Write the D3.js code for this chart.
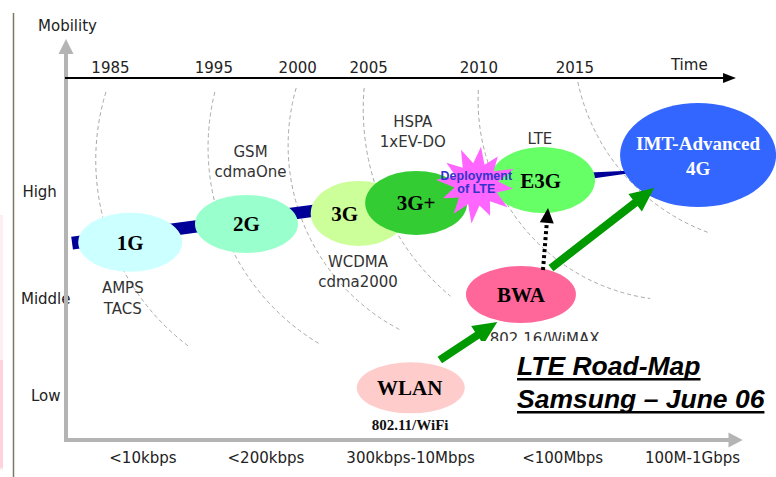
<!DOCTYPE html>
<html><head><meta charset="utf-8">
<script src="https://cdn.jsdelivr.net/npm/d3@7"></script>
<style>body{margin:0;background:#fff}svg{display:block}</style>
</head><body><svg id="c" width="776" height="477"></svg>
<script>
// ---------------- data ----------------
const years = [1985, 1995, 2000, 2005, 2010, 2015];
const yearPos = [6.5, 21.8, 34.2, 44.7, 61.0, 75.2];            // along horizontal axis (%)
const speedLabels = ["<10kbps", "<200kbps", "300kbps-10Mbps", "<100Mbps", "100M-1Gbps"];
const speedPos = [11.3, 29.5, 50.9, 73.4, 92.6];
const mobilityLevels = ["Low", "Middle", "High"];
const mobilityPos = [11.0, 37.8, 67.4];                          // along vertical axis (%)
const mobilityLabelPos = [-3.0, -3.0, -3.9];

const techs = ["1G", "2G", "3G", "3G+", "E3G", "IMT-Advanced|4G", "BWA", "WLAN"];
const techSpeed = [9.5, 26.7, 43.3, 51.8, 70.5, 93.5, 67.3, 51.0];
const techMobility = [54.6, 59.7, 62.6, 65.5, 71.8, 78.7, 40.2, 14.4];

const noteTexts = [["AMPS", "TACS"], ["GSM", "cdmaOne"], ["WCDMA", "cdma2000"], ["HSPA", "1xEV-DO"], ["LTE"], ["802.16/WiMAX"], ["802.11/WiFi"]];
const noteSpeed = [8.4, 27.3, 43.2, 51.3, 70.1, 70.8, 50.9];
const noteMobility = [40.6, 78.2, 47.8, 86.5, 81.8, 26.5, 2.8];

const milestoneText = ["Deployment", "of LTE"];
const milestoneSpeed = 60.7, milestoneMobility = 70.6;

const bandSpeed = [0.9, 70.5, 83.1];
const bandMobility = [54.4, 71.8, 74.0];

const migrationFrom = [[55.3, 22.1], [71.75, 47.5]];
const migrationTo = [[63.8, 32.6], [87.0, 69.6]];
const dottedFrom = [70.56, 46.96], dottedTo = [71.3, 64.1];

const titleLines = ["LTE Road-Map", "Samsung – June 06"];

// ---------------- styles ----------------
const shapeStyle = {
  "1G": {rx: 52, ry: 29.5, fill: "#ccffff", text: "#000", dx: 0},
  "2G": {rx: 51.5, ry: 29, fill: "#99ffcc", text: "#000", dx: 0},
  "3G": {rx: 48, ry: 32.5, fill: "#ccff99", text: "#000", dx: -14},
  "3G+": {rx: 51, ry: 32, fill: "#33cc33", text: "#000", dx: 0},
  "E3G": {rx: 52.5, ry: 33, fill: "#66ff66", text: "#000", dx: -2},
  "IMT-Advanced|4G": {rx: 78, ry: 52, fill: "#3366ff", text: "#fff", dx: 0},
  "BWA": {rx: 55, ry: 28.5, fill: "#ff6699", text: "#000", dx: 0},
  "WLAN": {rx: 54, ry: 25.5, fill: "#ffcccc", text: "#000", dx: -1}
};
const arcLayout = [
  {dx: -4, ty: 92, r: 233, a0: 197, a1: 127},
  {dx: 1.5, ty: 92, r: 229, a0: 194, a1: 121},
  {dx: -1, ty: 88, r: 208, a0: 196, a1: 117},
  {dx: -4, ty: 88, r: 244, a0: 185, a1: 130},
  {dx: 0, ty: 90, r: 200, a0: 183, a1: 98},
  {dx: 3.5, ty: 82, r: 206, a0: 168, a1: 110}
];
const SANS = "'DejaVu Sans', sans-serif";
const SERIF = "'Liberation Serif', 'Times New Roman', serif";

// ---------------- scales ----------------
const x = d3.scaleLinear().domain([0, 100]).range([66, 742]);
const y = d3.scaleLinear().domain([0, 100]).range([440, 78]);

const svg = d3.select("#c");
svg.append("rect").attr("width", 776).attr("height", 477).attr("fill", "#fff");

// page decorations
svg.append("rect").attr("x", 0).attr("y", 215).attr("width", 3).attr("height", 255).attr("fill", "#fdeef2");
svg.append("rect").attr("x", 0).attr("y", 360).attr("width", 3).attr("height", 108).attr("fill", "#ffd2de");
svg.append("line").attr("x1", 13.5).attr("x2", 13.5).attr("y1", 13).attr("y2", 477)
  .attr("stroke", "#7d7864").attr("stroke-width", 1.5);

// ---------------- dashed time arcs ----------------
const rad = Math.PI / 180;
arcLayout.forEach((a, i) => {
  const tx = x(yearPos[i]) + a.dx, ty = a.ty;
  const cx = tx - a.r * Math.cos(a.a0 * rad), cy = ty - a.r * Math.sin(a.a0 * rad);
  const p = d3.path();
  p.moveTo(tx, ty);
  p.arc(cx, cy, a.r, a.a0 * rad, a.a1 * rad, true);
  svg.append("path").attr("d", p.toString()).attr("fill", "none")
    .attr("stroke", "#a8a8a8").attr("stroke-width", 1).attr("stroke-dasharray", "4,3");
});

// ---------------- axes ----------------
const speedAxis = d3.axisBottom(x).tickValues(speedPos).tickFormat((d, i) => speedLabels[i]).tickSize(0).tickPadding(12);
const gS = svg.append("g").attr("transform", `translate(0,${y(0)})`).call(speedAxis);
gS.select(".domain").remove();
gS.selectAll("text").attr("font-family", SANS).attr("font-size", 15).attr("fill", "#222");
svg.append("line").attr("x1", x(0) - 2).attr("x2", x(98.2)).attr("y1", y(0)).attr("y2", y(0))
  .attr("stroke", "#b4b4b4").attr("stroke-width", 4);
svg.append("path").attr("d", d3.line()([[x(98), y(0) - 7.5], [x(100.1), y(0)], [x(98), y(0) + 7.5]]) + "Z").attr("fill", "#b4b4b4");

const mobAxis = d3.axisLeft(y).tickValues(mobilityPos).tickFormat((d, i) => mobilityLevels[i]).tickSize(0);
const gM = svg.append("g").attr("transform", `translate(${x(0)},0)`).call(mobAxis);
gM.select(".domain").remove();
gM.selectAll("text").attr("font-family", SANS).attr("font-size", 15).attr("fill", "#222")
  .attr("text-anchor", "middle").attr("dy", "0").attr("x", (d, i) => x(mobilityLabelPos[i]) - x(0));
svg.append("line").attr("x1", x(0)).attr("x2", x(0)).attr("y1", y(0) + 2).attr("y2", 52)
  .attr("stroke", "#b4b4b4").attr("stroke-width", 4);
svg.append("path").attr("d", d3.line()([[x(0) - 7.5, 54], [x(0), 39], [x(0) + 7.5, 54]]) + "Z").attr("fill", "#b4b4b4");
svg.append("text").attr("x", x(0) + 1.5).attr("y", 31).attr("text-anchor", "middle")
  .attr("font-family", SANS).attr("font-size", 15).attr("fill", "#222").text("Mobility");

const timeAxis = d3.axisTop(x).tickValues(yearPos).tickFormat((d, i) => years[i]).tickSize(0).tickPadding(5);
const gT = svg.append("g").attr("transform", `translate(0,${y(100)})`).call(timeAxis);
gT.select(".domain").remove();
gT.selectAll("text").attr("font-family", SANS).attr("font-size", 15).attr("fill", "#222");
svg.append("line").attr("x1", x(0) - 1).attr("x2", x(97.5)).attr("y1", y(100)).attr("y2", y(100))
  .attr("stroke", "#000").attr("stroke-width", 2);
svg.append("path").attr("d", d3.line()([[x(97.2), y(100) - 5], [x(99.1), y(100)], [x(97.2), y(100) + 5]]) + "Z").attr("fill", "#000");
svg.append("text").attr("x", x(92.2)).attr("y", 70).attr("text-anchor", "middle")
  .attr("font-family", SANS).attr("font-size", 15).attr("fill", "#222").text("Time");

// ---------------- evolution band ----------------
(function () {
  const pts = bandSpeed.map((s, i) => [x(s), y(bandMobility[i])]);
  const hw = [6.5, 5.5, 1.5];
  const up = [], dn = [];
  pts.forEach((p, i) => {
    const a = pts[Math.max(0, i - 1)], b = pts[Math.min(pts.length - 1, i + 1)];
    const dx = b[0] - a[0], dy = b[1] - a[1], L = Math.hypot(dx, dy);
    const nx = -dy / L, ny = dx / L;
    up.push([p[0] + nx * hw[i], p[1] + ny * hw[i]]);
    dn.push([p[0] - nx * hw[i], p[1] - ny * hw[i]]);
  });
  svg.append("path").attr("d", d3.line()(up.concat(dn.reverse())) + "Z").attr("fill", "#000099");
})();

// ---------------- technology ellipses ----------------
function drawTech(name) {
  const i = techs.indexOf(name), st = shapeStyle[name];
  const cx = x(techSpeed[i]), cy = y(techMobility[i]);
  svg.append("ellipse").attr("cx", cx).attr("cy", cy).attr("rx", st.rx).attr("ry", st.ry).attr("fill", st.fill);
  const lines = name.split("|");
  const t = svg.append("text").attr("text-anchor", "middle").attr("font-family", SERIF)
    .attr("font-weight", "bold").attr("font-size", lines.length > 1 ? 19 : 21).attr("fill", st.text);
  lines.forEach((l, k) => {
    t.append("tspan").attr("x", cx + st.dx).attr("y", lines.length > 1 ? cy - 5 + k * 25 : cy + 7.5).text(l);
  });
}
["1G", "2G", "3G", "3G+", "E3G"].forEach(drawTech);

// milestone star
(function () {
  const cx = x(milestoneSpeed), cy = y(milestoneMobility);
  const n = 12, pts = [];
  const jitter = [1, 0.92, 1.05, 0.95, 1, 0.9, 1.04, 0.97, 0.93, 1.05, 0.96, 1];
  for (let k = 0; k < n * 2; k++) {
    const r = k % 2 === 0 ? 39 * jitter[k / 2] : 22;
    const a = -Math.PI / 2 + 0.12 + k * Math.PI / n;
    pts.push([cx + r * Math.cos(a), cy + r * 0.97 * Math.sin(a)]);
  }
  svg.append("path").attr("d", d3.line()(pts) + "Z").attr("fill", "#ff66ff");
  const t = svg.append("text").attr("text-anchor", "middle").attr("font-family", "'Liberation Sans', Arial, sans-serif")
    .attr("font-weight", "bold").attr("font-size", 12.5).attr("fill", "#3333cc");
  milestoneText.forEach((l, k) => t.append("tspan").attr("x", cx).attr("y", cy - 4.5 + k * 13.5).text(l));
})();

["IMT-Advanced|4G", "BWA", "WLAN"].forEach(drawTech);

// ---------------- notes ----------------
noteTexts.forEach((lines, i) => {
  const isWifi = lines[0] === "802.11/WiFi";
  const t = svg.append("text").attr("text-anchor", "middle")
    .attr("font-family", isWifi ? SERIF : SANS).attr("font-weight", isWifi ? "bold" : "normal")
    .attr("font-size", 15).attr("fill", isWifi ? "#111" : "#333");
  lines.forEach((l, k) => t.append("tspan").attr("x", x(noteSpeed[i])).attr("y", y(noteMobility[i]) + k * 20.5).text(l));
});

// ---------------- arrows ----------------
function arrowPoly(p0, p1, sw, hl, hw) {
  const [x0, y0] = p0, [x1, y1] = p1;
  const dx = x1 - x0, dy = y1 - y0, L = Math.hypot(dx, dy), ux = dx / L, uy = dy / L, px = -uy, py = ux;
  const bx = x1 - ux * hl, by = y1 - uy * hl;
  return [[x0 + px * sw / 2, y0 + py * sw / 2], [bx + px * sw / 2, by + py * sw / 2], [bx + px * hw, by + py * hw], [x1, y1],
    [bx - px * hw, by - py * hw], [bx - px * sw / 2, by - py * sw / 2], [x0 - px * sw / 2, y0 - py * sw / 2]];
}
migrationFrom.forEach((f, i) => {
  const p0 = [x(f[0]), y(f[1])], p1 = [x(migrationTo[i][0]), y(migrationTo[i][1])];
  svg.append("path").attr("d", d3.line()(arrowPoly(p0, p1, 8, 24, 11)) + "Z").attr("fill", "#009900");
});
(function () {
  const p0 = [x(dottedFrom[0]), y(dottedFrom[1])], p1 = [x(dottedTo[0]), y(dottedTo[1])];
  const L = Math.hypot(p1[0] - p0[0], p1[1] - p0[1]);
  const ux = (p1[0] - p0[0]) / L, uy = (p1[1] - p0[1]) / L;
  const b = [p1[0] - ux * 15, p1[1] - uy * 15];
  svg.append("line").attr("x1", p0[0]).attr("y1", p0[1]).attr("x2", b[0]).attr("y2", b[1])
    .attr("stroke", "#000").attr("stroke-width", 4).attr("stroke-dasharray", "3,3");
  svg.append("path").attr("d", d3.line()([[b[0] - uy * 7, b[1] + ux * 7], p1, [b[0] + uy * 7, b[1] - ux * 7]]) + "Z").attr("fill", "#000");
})();

// ---------------- title box ----------------
svg.append("rect").attr("x", 478).attr("y", 341).attr("width", 298).attr("height", 90).attr("fill", "#fff");
titleLines.forEach((l, k) => {
  const t = svg.append("text").attr("x", 517).attr("y", 375 + k * 33)
    .attr("font-family", "'Liberation Sans', Arial, sans-serif").attr("font-weight", "bold").attr("font-style", "italic")
    .attr("font-size", 26.5).attr("fill", "#000").text(l);
  const w = t.node().getComputedTextLength();
  svg.append("rect").attr("x", 517).attr("y", 375 + k * 33 + 3).attr("width", w).attr("height", 2.5).attr("fill", "#000");
});
</script></body></html>
